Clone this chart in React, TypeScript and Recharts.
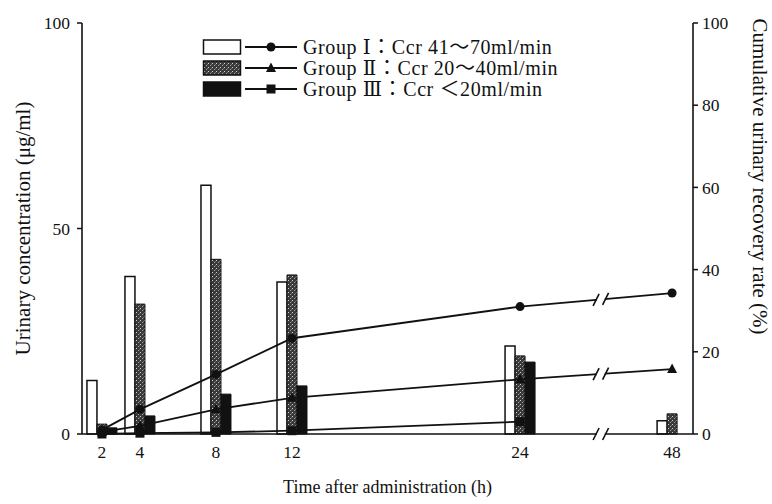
import React from 'react';
import { ComposedChart, Bar, Line, XAxis, YAxis, Legend, ReferenceArea } from 'recharts';

// ---- data ----
const hours = [2, 4, 8, 12, 24, 48];
const concGroupI = [13, 38.3, 60.5, 37, 21.4, 3.2];
const concGroupII = [2.4, 31.6, 42.5, 38.7, 19, 4.9];
const concGroupIII = [1.5, 4.4, 9.7, 11.7, 17.5, 0];
const recGroupI = [1, 6, 14.5, 23.3, 31, 34.3];
const recGroupII = [0.5, 2, 6, 8.8, 13.3, 15.8];
const recGroupIII: (number | null)[] = [0, 0.2, 0.4, 0.8, 3, null];
const leftTicks = [0, 50, 100];
const rightTicks = [0, 20, 40, 60, 80, 100];
const groupLabels = [
  'Group Ⅰ：Ccr 41～70ml/min',
  'Group Ⅱ：Ccr 20～40ml/min',
  'Group Ⅲ：Ccr ＜20ml/min',
];
const xTitle = 'Time after administration (h)';
const leftTitle = 'Urinary concentration (μg/ml)';
const rightTitle = 'Cumulative urinary recovery rate (%)';

// broken time axis: after 24 h the scale is compressed
const BREAK_AT = 24;
const COMPRESS = 3;
const axisPos = (h: number) => (h <= BREAK_AT ? h : BREAK_AT + (h - BREAK_AT) / COMPRESS);
const BREAK_FROM = 28.0;
const BREAK_TO = 28.5;

const data = hours.map((h, i) => ({
  t: axisPos(h),
  cI: concGroupI[i],
  cII: concGroupII[i],
  cIII: concGroupIII[i] || null,
  rI: recGroupI[i],
  rII: recGroupII[i],
  rIII: recGroupIII[i],
}));

const FONT = "'Liberation Serif', 'DejaVu Serif', 'Noto Sans CJK JP', serif";
const INK = '#111';

const tickLabel = (v: number) => {
  const i = hours.findIndex((h) => axisPos(h) === v);
  return i >= 0 ? String(hours[i]) : '';
};

const CircleDot = (p: any) =>
  p.cy == null || p.value == null ? <g key={`c${p.index}`} /> : <circle key={`c${p.index}`} cx={p.cx} cy={p.cy} r={4.5} fill={INK} />;
const TriDot = (p: any) =>
  p.cy == null || p.value == null ? (
    <g key={`t${p.index}`} />
  ) : (
    <path key={`t${p.index}`} d={`M${p.cx},${p.cy - 5.5} L${p.cx + 5},${p.cy + 4} L${p.cx - 5},${p.cy + 4} Z`} fill={INK} />
  );
const SqDot = (p: any) =>
  p.cy == null || p.value == null ? (
    <g key={`s${p.index}`} />
  ) : (
    <rect key={`s${p.index}`} x={p.cx - 4.5} y={p.cy - 4.5} width={9} height={9} fill={INK} />
  );

const Stipple = ({ id }: { id: string }) => (
  <pattern id={id} width={4} height={4} patternUnits="userSpaceOnUse">
    <rect width={4} height={4} fill="#3a3a3a" />
    <rect x={0} y={0} width={1} height={1} fill="#d0d0d0" />
    <rect x={2} y={2} width={1} height={1} fill="#a0a0a0" />
    <rect x={3} y={1} width={1} height={1} fill="#707070" />
  </pattern>
);

// break marks drawn inside a ReferenceArea spanning the gap
const BreakShape = (p: any) => {
  const { x, y, width, height } = p;
  if (x == null) return <g />;
  const t24 = axisPos(24);
  const t48 = axisPos(48);
  const valAt = (s: (number | null)[], t: number) => {
    const a = s[4] as number;
    const b = s[5] as number;
    return a + ((b - a) * (t - t24)) / (t48 - t24);
  };
  const py = (v: number) => y + height * (1 - v / 100);
  const slash = (cx: number, cy: number, k: string) => (
    <line key={k} x1={cx - 3} y1={cy + 6} x2={cx + 3} y2={cy - 6} stroke={INK} strokeWidth={1.6} />
  );
  const marks: any[] = [];
  [recGroupI, recGroupII].forEach((s, i) => {
    marks.push(slash(x, py(valAt(s, BREAK_FROM)), `l${i}`));
    marks.push(slash(x + width, py(valAt(s, BREAK_TO)), `r${i}`));
  });
  marks.push(slash(x, y + height, 'la'));
  marks.push(slash(x + width, y + height, 'ra'));
  return (
    <g>
      <rect x={x + 0.8} y={y} width={width - 1.6} height={height + 3} fill="#fff" />
      {marks}
    </g>
  );
};

const LegendContent = () => {
  const boxFills = ['#fff', 'url(#stippleLegend)', INK];
  const dots = [CircleDot, TriDot, SqDot];
  return (
    <svg width={390} height={66} style={{ display: 'block', overflow: 'visible' }}>
      <defs>
        <Stipple id="stippleLegend" />
      </defs>
      {groupLabels.map((lab, i) => {
        const cy = 8 + i * 21;
        const D = dots[i];
        return (
          <g key={lab}>
            <rect x={3.5} y={cy - 7} width={37} height={14} fill={boxFills[i]} stroke={INK} strokeWidth={1.5} />
            <line x1={45} y1={cy} x2={97} y2={cy} stroke={INK} strokeWidth={1.8} />
            {D({ cx: 71, cy, value: 1, index: i })}
            <text x={103} y={cy} dominantBaseline="central" fontFamily={FONT} fontSize={20} letterSpacing={0.6} fill={INK}>
              {lab}
            </text>
          </g>
        );
      })}
    </svg>
  );
};

const LeftTitle = (p: any) => {
  const vb = p.viewBox;
  const cx = vb.x + 23;
  const cy = vb.y + vb.height / 2;
  return (
    <text x={cx} y={cy} transform={`rotate(-90 ${cx} ${cy})`} textAnchor="middle" dominantBaseline="central" fontFamily={FONT} fontSize={21} fill={INK}>
      {leftTitle}
    </text>
  );
};
const RightTitle = (p: any) => {
  const vb = p.viewBox;
  const cx = vb.x + 67;
  const cy = vb.y + vb.height / 2 - 52;
  return (
    <text x={cx} y={cy} transform={`rotate(90 ${cx} ${cy})`} textAnchor="middle" dominantBaseline="central" fontFamily={FONT} fontSize={21} fill={INK}>
      {rightTitle}
    </text>
  );
};
const BottomTitle = (p: any) => {
  const vb = p.viewBox;
  return (
    <text x={vb.x + vb.width / 2} y={493} textAnchor="middle" fontFamily={FONT} fontSize={18} fill={INK}>
      {xTitle}
    </text>
  );
};

export default function App() {
  const tickStyle = { fontFamily: FONT, fontSize: 17.5, fill: INK };
  return (
    <div style={{ position: 'absolute', left: 0, top: 0, width: 772, height: 504, background: '#fff' }}>
      <ComposedChart width={772} height={504} data={data} margin={{ top: 23, right: 0, bottom: 0, left: 0 }} barGap={0}>
        <defs>
          <Stipple id="stipple" />
        </defs>
        <XAxis
          type="number"
          dataKey="t"
          domain={[0.95, 33.1]}
          allowDataOverflow
          ticks={hours.map(axisPos)}
          tickFormatter={tickLabel}
          tickLine={false}
          tickSize={0}
          tickMargin={12}
          axisLine={{ stroke: INK, strokeWidth: 1.6 }}
          tick={tickStyle}
          height={70}
          label={{ content: BottomTitle }}
        />
        <YAxis
          yAxisId="conc"
          domain={[0, 100]}
          ticks={leftTicks}
          width={82}
          tickSize={5}
          tickMargin={7}
          tickLine={{ stroke: INK, strokeWidth: 1.5 }}
          axisLine={{ stroke: INK, strokeWidth: 1.6 }}
          tick={tickStyle}
          label={{ content: LeftTitle }}
        />
        <YAxis
          yAxisId="rec"
          orientation="right"
          domain={[0, 100]}
          ticks={rightTicks}
          width={79}
          tickSize={5}
          tickMargin={4}
          tickLine={{ stroke: INK, strokeWidth: 1.5 }}
          axisLine={{ stroke: INK, strokeWidth: 1.6 }}
          tick={tickStyle}
          label={{ content: RightTitle }}
        />
        <Bar yAxisId="conc" dataKey="cI" barSize={10} fill="#fff" stroke={INK} strokeWidth={1.5} isAnimationActive={false} />
        <Bar yAxisId="conc" dataKey="cII" barSize={10} fill="url(#stipple)" stroke={INK} strokeWidth={1} isAnimationActive={false} />
        <Bar yAxisId="conc" dataKey="cIII" barSize={10} fill={INK} stroke={INK} strokeWidth={1} isAnimationActive={false} />
        <Line yAxisId="rec" dataKey="rI" stroke={INK} strokeWidth={1.8} dot={CircleDot} activeDot={false} isAnimationActive={false} />
        <Line yAxisId="rec" dataKey="rII" stroke={INK} strokeWidth={1.8} dot={TriDot} activeDot={false} isAnimationActive={false} />
        <Line yAxisId="rec" dataKey="rIII" stroke={INK} strokeWidth={1.8} dot={SqDot} activeDot={false} isAnimationActive={false} />
        <ReferenceArea
          yAxisId="rec"
          x1={BREAK_FROM}
          x2={BREAK_TO}
          y1={0}
          y2={100}
          shape={BreakShape}
          zIndex={2000}
          ifOverflow="visible"
        />
        <Legend
          layout="horizontal"
          verticalAlign="middle"
          align="center"
          content={LegendContent}
          wrapperStyle={{ position: 'absolute', left: 200, top: 39, width: 390, height: 66 }}
        />
      </ComposedChart>
    </div>
  );
}
